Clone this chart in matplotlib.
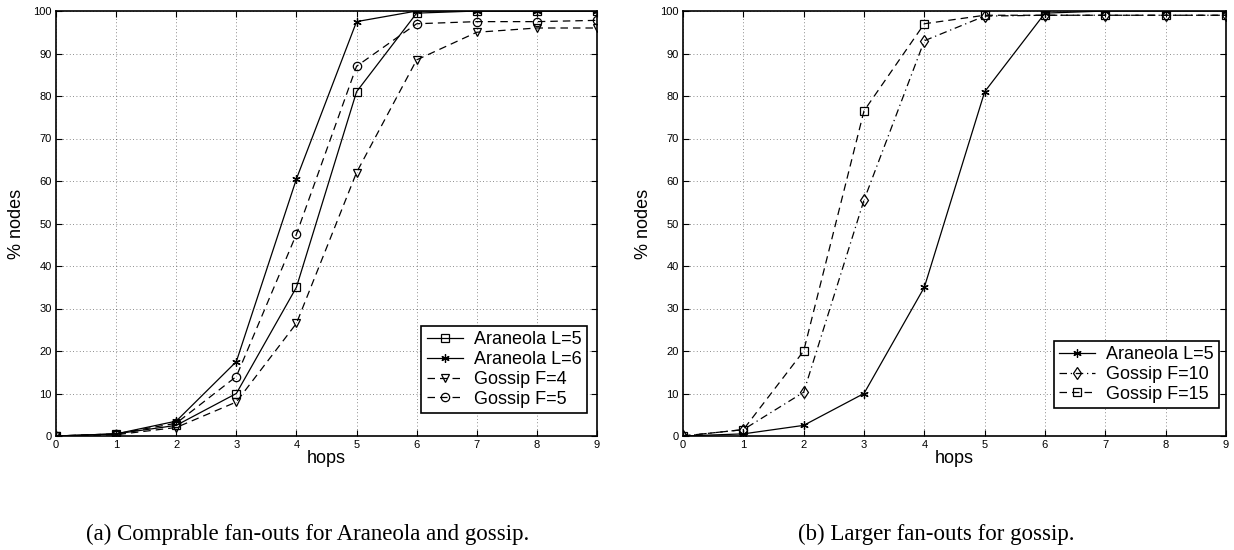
import matplotlib
matplotlib.use("Agg")
import matplotlib.pyplot as plt

plt.rcParams['font.family'] = ['Liberation Sans', 'DejaVu Sans']

HOPS = [0, 1, 2, 3, 4, 5, 6, 7, 8, 9]

# panel (a)
ARA_L5 = [0, 0.5, 2.5, 10, 35, 81, 99.5, 100, 100, 100]
ARA_L6 = [0, 0.5, 3.5, 17.5, 60.5, 97.5, 100, 100, 100, 100]
GOS_F4 = [0, 0.3, 2, 8, 26.5, 62, 88.5, 95, 96, 96]
GOS_F5 = [0, 0.5, 3, 14, 47.5, 87, 97, 97.5, 97.5, 97.8]

# panel (b)
ARA_L5_B = [0, 0.5, 2.5, 10, 35, 81, 99.5, 100, 100, 100]
GOS_F10 = [0, 1.5, 10.3, 55.5, 93, 98.8, 99, 99, 99, 99]
GOS_F15 = [0, 1.5, 20, 76.5, 97, 99, 99, 99, 99, 99]

CAPTIONS = ["(a) Comprable fan-outs for Araneola and gossip.",
            "(b) Larger fan-outs for gossip."]

W, H = 1234, 550
fig = plt.figure(figsize=(W / 100, H / 100), dpi=100)

ASTER = (6, 2, 0)  # matlab-like asterisk


def style_axes(ax):
    ax.set_xlim(0, 9)
    ax.set_ylim(0, 100)
    ax.set_xticks(range(0, 10))
    ax.set_yticks(range(0, 101, 10))
    ax.grid(True, linestyle=(0, (1, 3)), color='black', linewidth=0.6, alpha=0.6)
    ax.tick_params(direction='in', length=4, width=0.8, labelsize=8,
                   top=True, right=True, pad=3)
    for s in ax.spines.values():
        s.set_linewidth(1.2)
    ax.set_xlabel('hops', fontsize=13, labelpad=0)
    ax.set_ylabel('% nodes', fontsize=13, labelpad=6)


mk = dict(color='black', linewidth=0.9, markersize=6, markerfacecolor='none',
          markeredgewidth=0.9)

ax1 = fig.add_axes([56 / W, 1 - 436 / H, 541 / W, 425 / H])
ax1.plot(HOPS, ARA_L5, marker='s', linestyle='-', label='Araneola L=5', **mk)
ax1.plot(HOPS, ARA_L6, marker=ASTER, linestyle='-', label='Araneola L=6', **mk)
ax1.plot(HOPS, GOS_F4, marker='v', linestyle=(0, (6, 4)), label='Gossip F=4', **mk)
ax1.plot(HOPS, GOS_F5, marker='o', linestyle=(0, (6, 4)), label='Gossip F=5', **mk)
style_axes(ax1)
leg1 = ax1.legend(loc='lower right', bbox_to_anchor=(587 / W, 1 - 413 / H),
                  bbox_transform=fig.transFigure, fontsize=13, fancybox=False,
                  framealpha=1, edgecolor='black', handlelength=2.0,
                  borderpad=0.3, labelspacing=0.15, handletextpad=0.6,
                  borderaxespad=0)
leg1.get_frame().set_linewidth(1.2)

ax2 = fig.add_axes([683 / W, 1 - 436 / H, 543 / W, 425 / H])
ax2.plot(HOPS, ARA_L5_B, marker=ASTER, linestyle='-', label='Araneola L=5', **mk)
ax2.plot(HOPS, GOS_F10, marker='d', linestyle=(0, (6, 3, 1, 3)), label='Gossip F=10', **mk)
ax2.plot(HOPS, GOS_F15, marker='s', linestyle=(0, (6, 4)), label='Gossip F=15', **mk)
style_axes(ax2)
leg2 = ax2.legend(loc='lower right', bbox_to_anchor=(1219 / W, 1 - 408 / H),
                  bbox_transform=fig.transFigure, fontsize=13, fancybox=False,
                  framealpha=1, edgecolor='black', handlelength=2.0,
                  borderpad=0.3, labelspacing=0.15, handletextpad=0.6,
                  borderaxespad=0)
leg2.get_frame().set_linewidth(1.2)

fig.text(308 / W, 1 - 534 / H, CAPTIONS[0], ha='center', va='center',
         fontsize=16.5, family=['Liberation Serif', 'DejaVu Serif'])
fig.text(936 / W, 1 - 534 / H, CAPTIONS[1], ha='center', va='center',
         fontsize=16.5, family=['Liberation Serif', 'DejaVu Serif'])

fig.savefig('out.png', dpi=100)
